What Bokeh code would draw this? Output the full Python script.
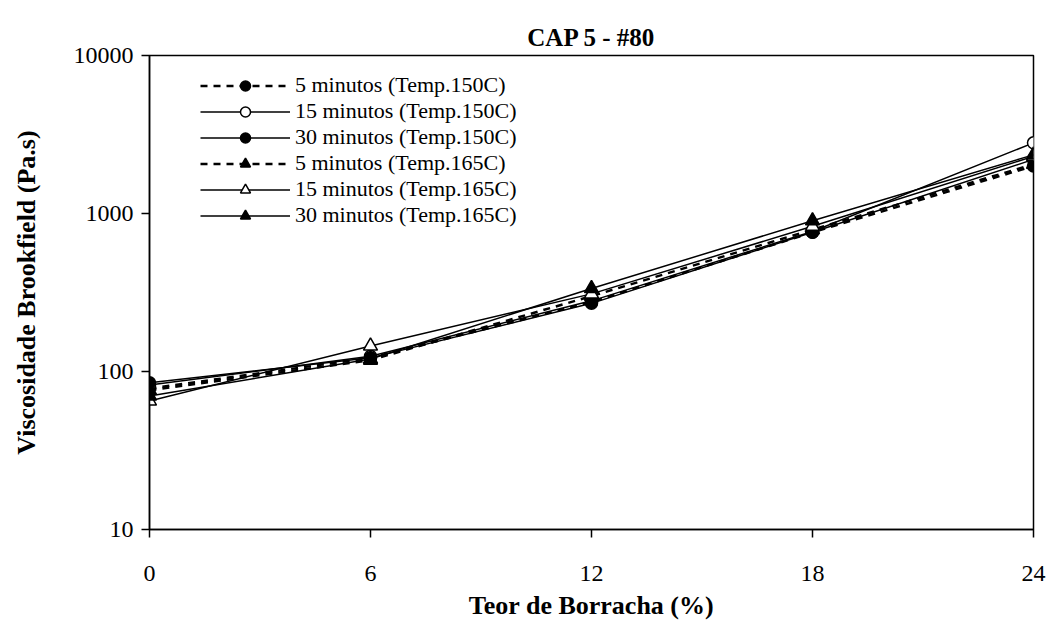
from bokeh.plotting import figure
from bokeh.models import FixedTicker, Legend, LegendItem, Range1d, CustomJSTickFormatter
from bokeh.embed import file_html
from bokeh.resources import INLINE

teor = [0, 6, 12, 18, 24]
s5_150 = [78, 122, 275, 760, 2000]
s15_150 = [82, 125, 280, 770, 2800]
s30_150 = [85, 122, 270, 760, 2200]
s5_165 = [76, 118, 300, 790, 2050]
s15_165 = [65, 145, 310, 830, 2300]
s30_165 = [70, 120, 335, 900, 2350]
labels = ["5 minutos (Temp.150C)", "15 minutos (Temp.150C)", "30 minutos (Temp.150C)",
          "5 minutos (Temp.165C)", "15 minutos (Temp.165C)", "30 minutos (Temp.165C)"]
x_ticks = [0, 6, 12, 18, 24]
y_ticks = [10, 100, 1000, 10000]

FONT = "Liberation Serif"

p = figure(width=1050, height=632, y_axis_type="log", output_backend="svg",
           toolbar_location=None, x_range=Range1d(0, 24), y_range=Range1d(10, 10000),
           min_border_left=149, min_border_right=17, min_border_top=55, min_border_bottom=103,
           title="CAP 5 - #80")
p.title.align = "center"
p.title.text_font = FONT
p.title.text_font_size = "25px"
p.title.text_font_style = "bold"
p.title.text_color = "black"
p.title.standoff = 9

p.xgrid.visible = False
p.ygrid.visible = False
p.outline_line_color = "black"
p.outline_line_width = 1.5
p.background_fill_color = "white"
p.border_fill_color = "white"

for ax in (p.xaxis[0], p.yaxis[0]):
    ax.axis_line_color = "black"
    ax.axis_line_width = 1.5
    ax.major_tick_line_color = "black"
    ax.major_tick_line_width = 1.5
    ax.major_tick_in = 0
    ax.major_tick_out = 8
    ax.minor_tick_line_color = None
    ax.major_label_text_font = FONT
    ax.major_label_text_font_size = "24px"
    ax.major_label_text_color = "black"
    ax.axis_label_text_font = FONT
    ax.axis_label_text_font_size = "26px"
    ax.axis_label_text_font_style = "bold"
    ax.axis_label_text_color = "black"

p.xaxis.ticker = FixedTicker(ticks=x_ticks)
p.yaxis.ticker = FixedTicker(ticks=y_ticks)
p.yaxis.formatter = CustomJSTickFormatter(code="return tick.toFixed(0);")
p.xaxis.axis_label = "Teor de Borracha (%)"
p.yaxis.axis_label = "Viscosidade Brookfield (Pa.s)"
p.xaxis.major_label_standoff = 28
p.xaxis.axis_label_standoff = 7
p.yaxis.major_label_standoff = 8
p.yaxis.axis_label_standoff = 30

series = [s5_150, s15_150, s30_150, s5_165, s15_165, s30_165]
dashed = [True, False, False, True, False, False]
markers = ["circle", "circle", "circle", "triangle", "triangle", "triangle"]
fills = ["black", "white", "black", "black", "white", "black"]

items = []
for vals, lab, d, m, f in zip(series, labels, dashed, markers, fills):
    if d:
        ln = p.line(teor, vals, line_color="black", line_width=2.5, line_dash="7 6")
    else:
        ln = p.line(teor, vals, line_color="black", line_width=1.5)
    size = 12 if m == "circle" else 14
    sc = p.scatter(teor, vals, marker=m, size=size, fill_color=f, line_color="black",
                   line_width=1.5)
    items.append(LegendItem(label=lab, renderers=[ln, sc]))

legend = Legend(items=items, location=(51, 301), orientation="vertical")
legend.label_text_font = FONT
legend.label_text_font_size = "22px"
legend.label_text_color = "black"
legend.glyph_width = 90
legend.glyph_height = 25
legend.label_height = 25
legend.spacing = 0
legend.padding = 0
legend.label_standoff = 5
legend.border_line_color = None
legend.background_fill_alpha = 0
p.add_layout(legend)

open("out.html", "w").write(file_html(p, INLINE))
